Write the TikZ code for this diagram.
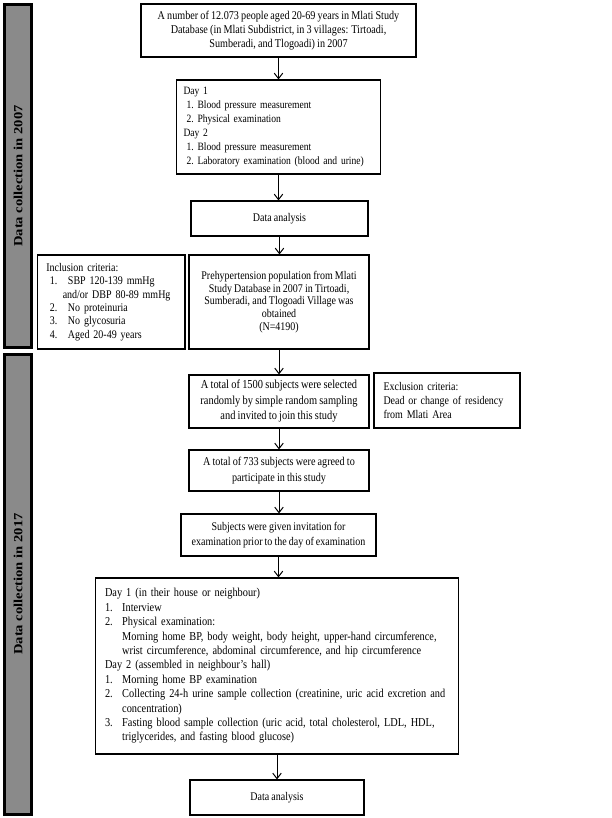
\documentclass[tikz,border=0pt]{standalone}
\usepackage{fontspec}
\setmainfont[FakeStretch=0.854,WordSpace=0.854]{Liberation Serif}
\newfontfamily\barfont{Liberation Serif}
\usetikzlibrary{arrows.meta}
\begin{document}
\begin{tikzpicture}[x=1pt,y=-1pt,
  box/.style={draw,line width=1.1pt,inner sep=0pt,font=\fontsize{11.7}{13.9}\selectfont},
  lbox/.style={box,align=left},
  arr/.style={line width=1pt,-{Straight Barb[length=5.5pt,width=8.5pt,line width=1pt]}},
  bar/.style={draw,line width=3.4pt,fill=black!46},
  bartext/.style={font=\barfont\fontsize{14.6}{16}\selectfont\bfseries,rotate=90,inner sep=0pt}]
\useasboundingbox (0,0) rectangle (612,818);
% side bars
\draw[bar] (4.7,4.7) rectangle (31.5,347.3);
\node[bartext] (t1) at (18.1,176) {\scalebox{1}[0.854]{Data collection in 2007}};
\draw[bar] (4.7,354.7) rectangle (31.5,814.3);
\node[bartext] (t2) at (18.1,584) {\scalebox{1}[0.854]{Data collection in 2017}};
% nodes
\node[box,minimum width=275,minimum height=53,align=center,
 font=\fontsize{11.9}{14}\selectfont] (top) at (278.5,30.5)
 {A number of 12.073 people aged 20-69 years in Mlati Study\\Database (in Mlati Subdistrict, in 3 villages: Tirtoadi,\\Sumberadi, and Tlogoadi) in 2007};
\node[lbox,minimum width=203,minimum height=94,text width=190,inner xsep=7,
 font=\fontsize{11.2}{13.9}\selectfont] (day) at (278.5,127)
 {Day 1\\
 \hspace*{3pt}\makebox[11pt][l]{1.}Blood pressure measurement\\
 \hspace*{3pt}\makebox[11pt][l]{2.}Physical examination\\
 Day 2\\
 \hspace*{3pt}\makebox[11pt][l]{1.}Blood pressure measurement\\
 \hspace*{3pt}\makebox[11pt][l]{2.}Laboratory examination (blood and urine)};
\node[box,minimum width=177,minimum height=35] (da1) at (279.5,218.5) {Data analysis};
\node[lbox,minimum width=147.5,minimum height=94,text width=130,inner xsep=8.6,
 font=\fontsize{11.7}{13.4}\selectfont] (incl) at (111.25,302)
 {Inclusion criteria:\\
 \hspace*{3.7pt}\makebox[18pt][l]{1.}SBP 120-139 mmHg\\
 \hspace*{16.5pt}and/or DBP 80-89 mmHg\\
 \hspace*{3.7pt}\makebox[18pt][l]{2.}No proteinuria\\
 \hspace*{3.7pt}\makebox[18pt][l]{3.}No glycosuria\\
 \hspace*{3.7pt}\makebox[18pt][l]{4.}Aged 20-49 years};
\node[box,minimum width=180,minimum height=94,align=center,
 font=\fontsize{11.7}{12.8}\selectfont] (preh) at (279,302)
 {Prehypertension population from Mlati\\Study Database in 2007 in Tirtoadi,\\Sumberadi, and Tlogoadi Village was\\obtained\\(N=4190)};
\node[box,minimum width=180,minimum height=53,align=center,
 font=\fontsize{12.2}{15.5}\selectfont] (sel) at (279,401.5)
 {A total of 1500 subjects were selected\\randomly by simple random sampling\\and invited to join this study};
\node[lbox,minimum width=146,minimum height=55,text width=127,inner xsep=9.4] (excl) at (447,400.5)
 {Exclusion criteria:\\Dead or change of residency\\from Mlati Area};
\node[box,minimum width=180,minimum height=41,align=center,
 font=\fontsize{11.9}{15.5}\selectfont] (agr) at (279,470.5)
 {A total of 733 subjects were agreed to\\participate in this study};
\node[box,minimum width=195,minimum height=42,align=center,
 font=\fontsize{11.7}{15.5}\selectfont] (inv) at (278.5,535)
 {Subjects were given invitation for\\examination prior to the day of examination};
\node[lbox,minimum width=362,minimum height=176,text width=344,inner xsep=9.3,
 font=\fontsize{12.1}{14.4}\selectfont] (big) at (277,666)
 {Day 1 (in their house or neighbour)\\
 \makebox[17.2pt][l]{1.}Interview\\
 \makebox[17.2pt][l]{2.}Physical examination:\\
 \hspace*{17.2pt}Morning home BP, body weight, body height, upper-hand circumference,\\
 \hspace*{17.2pt}wrist circumference, abdominal circumference, and hip circumference\\
 Day 2 (assembled in neighbour’s hall)\\
 \makebox[17.2pt][l]{1.}Morning home BP examination\\
 \makebox[17.2pt][l]{2.}Collecting 24-h urine sample collection (creatinine, uric acid excretion and\\
 \hspace*{17.2pt}concentration)\\
 \makebox[17.2pt][l]{3.}Fasting blood sample collection (uric acid, total cholesterol, LDL, HDL,\\
 \hspace*{17.2pt}triglycerides, and fasting blood glucose)};
\node[box,minimum width=174,minimum height=35] (da2) at (277,797.5) {Data analysis};
% arrows
\draw[arr] (top.south) -- (top.south |- day.north);
\draw[arr] (day.south) -- (day.south |- da1.north);
\draw[arr] (da1.south) -- (da1.south |- preh.north);
\draw[arr] (preh.south) -- (preh.south |- sel.north);
\draw[arr] (sel.south) -- (sel.south |- agr.north);
\draw[arr] (agr.south) -- (agr.south |- inv.north);
\draw[arr] (inv.south) -- (inv.south |- big.north);
\draw[arr] (big.south) -- (big.south |- da2.north);
\end{tikzpicture}
\end{document}
